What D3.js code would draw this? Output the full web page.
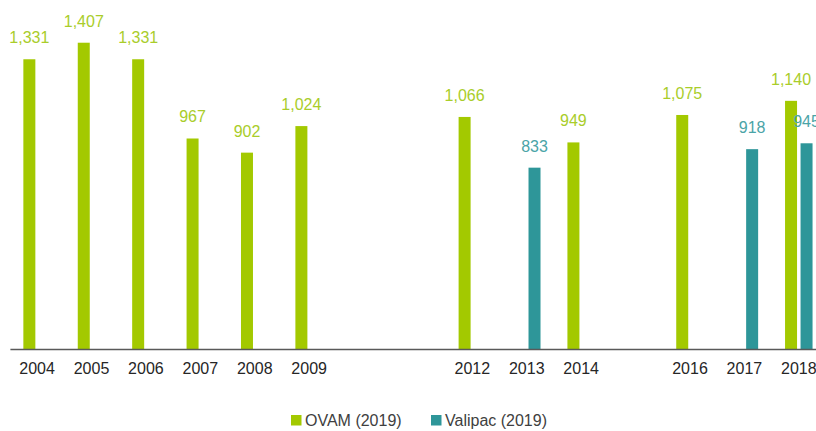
<!DOCTYPE html>
<html>
<head>
<meta charset="utf-8">
<script src="https://cdn.jsdelivr.net/npm/d3@7"></script>
<style>
  body { margin: 0; background: #fff; overflow: hidden; }
  text { font-family: "Liberation Sans", Arial, sans-serif; }
</style>
</head>
<body>
<div id="chart"></div>
<script>
// all years on the axis (empty ones keep their slot)
const years = ["2004", "2005", "2006", "2007", "2008", "2009", "2010", "2011",
  "2012", "2013", "2014", "2015", "2016", "2017", "2018"];
const tickYears = ["2004", "2005", "2006", "2007", "2008", "2009",
  "2012", "2013", "2014", "2016", "2017", "2018"];
const seriesNames = ["OVAM (2019)", "Valipac (2019)"];

// values by year, null where there is no bar
const ovam = [1331, 1407, 1331, 967, 902, 1024, null, null,
  1066, null, 949, null, 1075, null, 1140];
const valipac = [null, null, null, null, null, null, null, null,
  null, 833, null, null, null, 918, 945];

const barColors = ["#a3c900", "#2e9699"];
const labelColors = ["#a9cd2a", "#4aa4a7"];

const width = 816, height = 431;
const baseline = 349;

const svg = d3.select("#chart")
  .append("svg")
  .attr("width", width)
  .attr("height", height);

const x = d3.scaleBand()
  .domain(years)
  .range([9.9, 826])
  .paddingInner(0)
  .paddingOuter(0);

const xSeries = d3.scaleBand()
  .domain(seriesNames)
  .range([x.bandwidth() / 2 - 13.75, x.bandwidth() / 2 + 13.75])
  .paddingInner(0.226)
  .paddingOuter(0);

const y = d3.scaleLinear()
  .domain([0, 1600])
  .range([baseline, baseline - 348.3]);

const rows = [];
years.forEach((yr, i) => {
  [ovam, valipac].forEach((arr, s) => {
    if (arr[i] != null) rows.push({ year: yr, series: seriesNames[s], s: s, value: arr[i] });
  });
});

// bars
svg.append("g")
  .selectAll("rect")
  .data(rows)
  .enter()
  .append("rect")
  .attr("x", d => x(d.year) + xSeries(d.series))
  .attr("y", d => y(d.value))
  .attr("width", xSeries.bandwidth())
  .attr("height", d => y(0) - y(d.value))
  .attr("fill", d => barColors[d.s]);

// value labels
svg.append("g")
  .selectAll("text")
  .data(rows)
  .enter()
  .append("text")
  .attr("x", d => x(d.year) + xSeries(d.series) + xSeries.bandwidth() / 2)
  .attr("y", d => y(d.value) - 16)
  .attr("text-anchor", "middle")
  .attr("font-size", "16px")
  .attr("fill", d => labelColors[d.s])
  .text(d => d3.format(",")(d.value));

// x axis
const xAxis = svg.append("g")
  .attr("transform", `translate(0,${baseline})`)
  .call(d3.axisBottom(x).tickValues(tickYears).tickSize(0).tickPadding(14));

xAxis.select(".domain")
  .attr("stroke", "#595959")
  .attr("stroke-width", 1.5);

xAxis.selectAll("text")
  .attr("font-size", "16px")
  .attr("font-family", "Liberation Sans, Arial, sans-serif")
  .attr("fill", "#262626");

// legend
const legendItems = [
  { name: seriesNames[0], x: 291 },
  { name: seriesNames[1], x: 431 }
];

const legend = svg.append("g");

legend.selectAll("rect")
  .data(legendItems)
  .enter()
  .append("rect")
  .attr("x", d => d.x)
  .attr("y", 415)
  .attr("width", 10.5)
  .attr("height", 10.5)
  .attr("fill", (d, i) => barColors[i]);

legend.selectAll("text")
  .data(legendItems)
  .enter()
  .append("text")
  .attr("x", d => d.x + 14)
  .attr("y", 425.5)
  .attr("font-size", "16px")
  .attr("fill", "#404040")
  .text(d => d.name);
</script>
</body>
</html>
